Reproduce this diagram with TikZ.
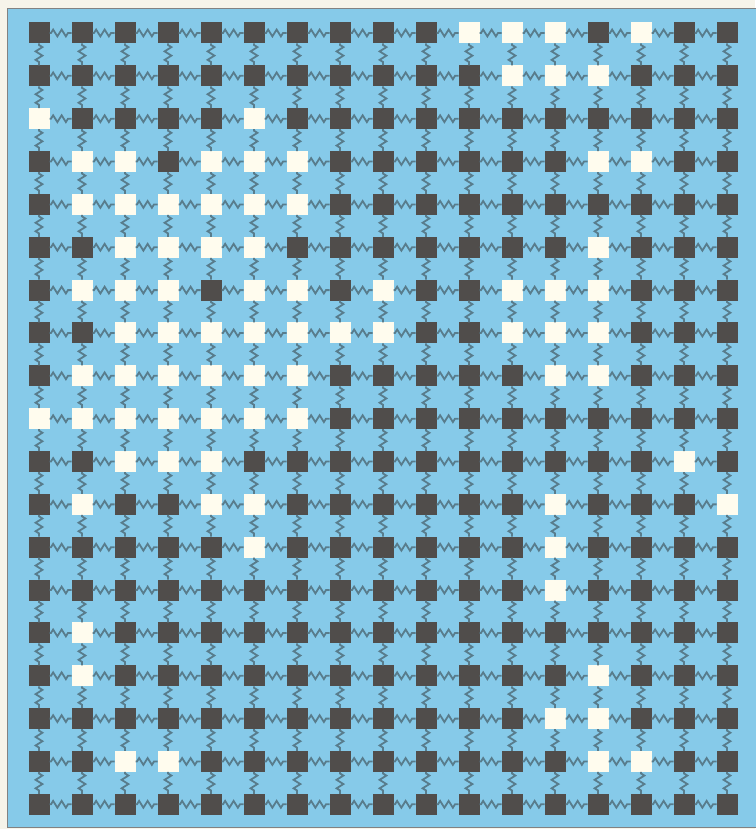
\documentclass[tikz,border=0pt]{standalone}
\usetikzlibrary{decorations.pathmorphing}
\definecolor{bgblue}{RGB}{134,202,233}
\definecolor{darksq}{RGB}{80,77,75}
\definecolor{lightsq}{RGB}{255,252,238}
\definecolor{springc}{RGB}{88,124,140}
\definecolor{paper}{RGB}{246,244,234}
\definecolor{framec}{RGB}{130,130,130}
\tikzset{
  sq/.style={draw=none, minimum size=21pt, inner sep=0pt, outer sep=0pt},
  spring/.style={draw=springc, line width=1.8pt, line join=miter,
    decorate, decoration={zigzag, segment length=8.5pt, amplitude=3.4pt,
      pre length=1.5pt, post length=1.5pt}},
}
\begin{document}
\begin{tikzpicture}[x=1pt, y=-1pt]
  \useasboundingbox (0,0) rectangle (755,829);
  \fill[paper] (0,0) rectangle (755,829);
  \fill[bgblue, draw=framec, line width=1pt] (7,9) rectangle (758,827);
  % white cells
  \foreach \r/\cs in {0/{10,11,12,14}, 1/{11,12,13}, 2/{0,5},
      3/{1,2,4,5,6,13,14}, 4/{1,2,3,4,5,6}, 5/{2,3,4,5,13},
      6/{1,2,3,5,6,8,11,12,13}, 7/{2,3,4,5,6,7,8,11,12,13},
      8/{1,2,3,4,5,6,12,13}, 9/{0,1,2,3,4,5,6}, 10/{2,3,4,15},
      11/{1,4,5,12,16}, 12/{5,12}, 13/{12}, 14/{1}, 15/{1,13},
      16/{12,13}, 17/{2,3,13,14}}{
    \foreach \c in \cs {\expandafter\gdef\csname wcell\r-\c\endcsname{}}
  }
  % squares
  \foreach \r in {0,...,18}{
    \foreach \c in {0,...,16}{
      \ifcsname wcell\r-\c\endcsname \def\fc{lightsq}\else\def\fc{darksq}\fi
      \node[sq, fill=\fc] (n\r-\c) at ({39+43*\c},{33+42.85*\r}) {};
    }
  }
  % horizontal springs
  \foreach \r in {0,...,18}{
    \foreach \c in {0,...,15}{
      \pgfmathtruncatemacro\cn{\c+1}
      \draw[spring] (n\r-\c.east) -- (n\r-\cn.west);
    }
  }
  % vertical springs
  \foreach \r in {0,...,17}{
    \pgfmathtruncatemacro\rn{\r+1}
    \foreach \c in {0,...,16}{
      \draw[spring] (n\r-\c.south) -- (n\rn-\c.north);
    }
  }
\end{tikzpicture}
\end{document}
